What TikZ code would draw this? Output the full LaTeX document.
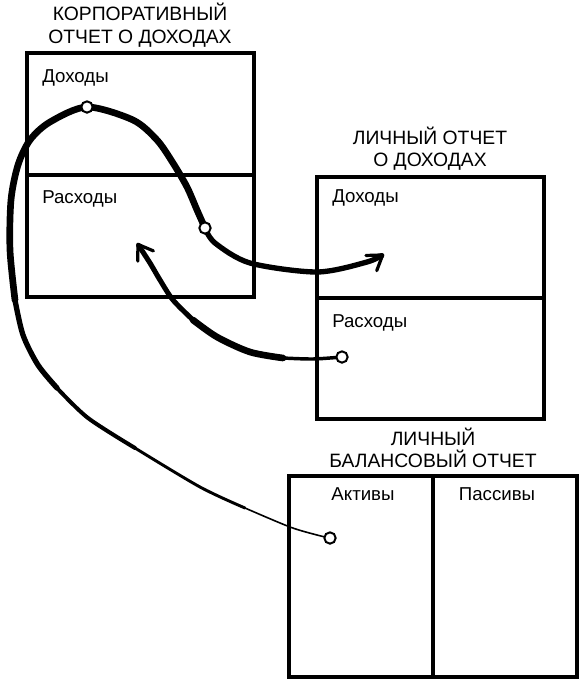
\documentclass[tikz,border=0pt]{standalone}
\usepackage{fontspec}
\setmainfont{Liberation Sans}
\usetikzlibrary{arrows.meta}
\begin{document}
\begin{tikzpicture}[x=0.75pt,y=-0.75pt,
  boxline/.style={line width=2.6pt},
  headtxt/.style={anchor=base,inner sep=0pt,font=\fontsize{14.5}{17}\selectfont},
  fieldtxt/.style={anchor=base west,inner sep=0pt,font=\fontsize{14}{17}\selectfont},
  fieldmid/.style={anchor=base,inner sep=0pt,font=\fontsize{14}{17}\selectfont},
  ring/.style={circle,draw,fill=white,line width=1.5pt,inner sep=0pt,minimum size=8.5pt},
  ink/.style={line cap=round,line join=round},
  barb/.style={-{Straight Barb[length=10.5pt,width=14pt,line width=2.4pt,round]}}]
\useasboundingbox (0,0) rectangle (585,683);

% boxes
\draw[boxline] (27,53) rectangle (254,297);
\draw[boxline] (27,175) -- (254,175);
\draw[boxline] (317,177) rectangle (544,419);
\draw[boxline] (317,298) -- (544,298);
\draw[boxline] (289,476) rectangle (577,677);
\draw[boxline] (433,476) -- (433,677);

% texts
\node[headtxt] (t1a) at (140,20) {КОРПОРАТИВНЫЙ};
\node[headtxt] (t1b) at (140,43) {ОТЧЕТ О ДОХОДАХ};
\node[fieldtxt] (l1a) at (42,82) {Доходы};
\node[fieldtxt] (l1b) at (42,203) {Расходы};
\node[headtxt] (t2a) at (430,144) {ЛИЧНЫЙ ОТЧЕТ};
\node[headtxt] (t2b) at (430,166) {О ДОХОДАХ};
\node[fieldtxt] (l2a) at (332,202) {Доходы};
\node[fieldtxt] (l2b) at (332,327) {Расходы};
\node[headtxt] (t3a) at (433,445) {ЛИЧНЫЙ};
\node[headtxt] (t3b) at (433,467) {БАЛАНСОВЫЙ ОТЧЕТ};
\node[fieldmid] (l3a) at (363,500) {Активы};
\node[fieldmid] (l3b) at (497,500) {Пассивы};

% anchor points
\coordinate (p1) at (87,107);
\coordinate (p2) at (205,228);
\coordinate (p3) at (342,357);
\coordinate (p4) at (330,538);
\coordinate (aEnd) at (384,254);
\coordinate (bEnd) at (137,243);

% main curve: assets -> corporate income -> personal income
\draw[ink,line width=1.2pt] plot[smooth] coordinates {(p4) (317,535) (290,527) (245,508)};
\draw[ink,line width=2.2pt] plot[smooth] coordinates {(245,508) (200,487) (135,448)};
\draw[ink,line width=3.0pt] plot[smooth] coordinates {(135,448) (88,418) (57,388)};
\draw[ink,line width=4.0pt] plot[smooth] coordinates {(57,388) (38,365) (23,335) (15,300)};
\draw[ink,line width=5.0pt] plot[smooth] coordinates {(15,300) (10,250) (11,200) (18,165) (30,140) (50,122) (p1) (133,120) (157,140) (173,163) (187,187) (197,210) (p2)};
\draw[ink,line width=4.0pt,barb] plot[smooth] coordinates {(p2) (215,243) (250,263) (317,272) (367,262) (aEnd)};

% second curve: personal expenses -> corporate expenses
\draw[ink,line width=2.6pt] plot[smooth] coordinates {(p3) (313,359) (283,358)};
\draw[ink,line width=5.0pt] plot[smooth] coordinates {(283,358) (250,352) (217,337) (193,320)};
\draw[ink,line width=3.8pt,barb] plot[smooth] coordinates {(193,320) (173,300) (160,280) (150,263) (bEnd)};

% rings
\node[ring] (c1) at (p1) {};
\node[ring] (c2) at (p2) {};
\node[ring] (c3) at (p3) {};
\node[ring] (c4) at (p4) {};
\end{tikzpicture}
\end{document}
